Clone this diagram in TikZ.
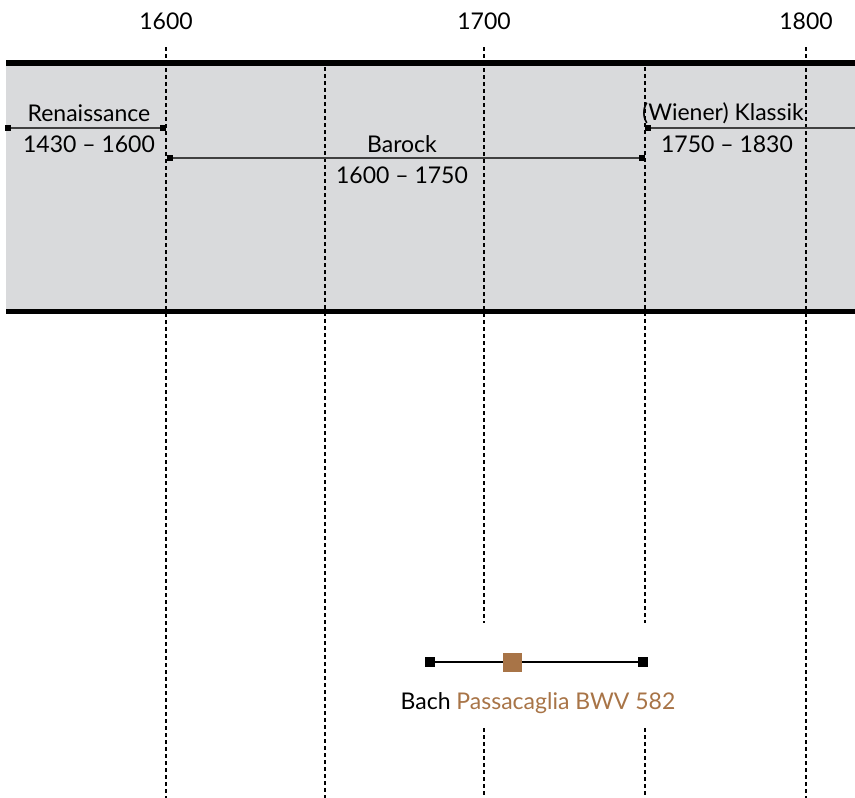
\documentclass[tikz,border=0pt]{standalone}
\usepackage{fontspec}
\setmainfont{Lato}
\usepackage{tikz}
\usetikzlibrary{calc}

\definecolor{bandgray}{HTML}{D9DADC}
\definecolor{bachbrown}{HTML}{A87447}

\tikzset{
  grid/.style={line width=1.1pt, dash pattern=on 4pt off 3pt},
  rule/.style={line width=6pt},
  period/.style={line width=1.5pt, draw=black!75},
  pend/.style={fill=black, inner sep=0pt, minimum size=6pt},
  wend/.style={fill=black, inner sep=0pt, minimum size=10pt},
  wmark/.style={fill=bachbrown, inner sep=0pt, minimum size=19pt},
  lbl/.style={font=\fontsize{23}{27}\selectfont, inner sep=0pt}
}

\begin{document}
\begin{tikzpicture}[x=1pt,y=-1pt]
  \useasboundingbox (0,0) rectangle (855,798);

  % band
  \fill[bandgray] (6,63) rectangle (855,311);
  \draw[rule] (6,63) -- (855,63);
  \draw[line width=5pt] (6,311) -- (855,311);

  % year labels
  \node[lbl] (y1600) at (166,21) {1600};
  \node[lbl] (y1700) at (484,21) {1700};
  \node[lbl] (y1800) at (806,21) {1800};

  % grid lines
  \draw[grid] (166,47) -- (166,798);
  \draw[grid] (325,67) -- (325,798);
  \draw[grid] (484,47) -- (484,623);
  \draw[grid] (484,728) -- (484,798);
  \draw[grid] (645,67) -- (645,623);
  \draw[grid] (645,728) -- (645,798);
  \draw[grid] (806,47) -- (806,798);

  % periods
  \node[pend] (ren1) at (8,128) {};
  \node[pend] (ren2) at (163,128) {};
  \draw[period] (ren1) -- (ren2);
  \node[lbl] (renname) at (89,113) {Renaissance};
  \node[lbl] (rendate) at (89,144) {1430 -- 1600};

  \node[pend] (bar1) at (170,158) {};
  \node[pend] (bar2) at (642,158) {};
  \draw[period] (bar1) -- (bar2);
  \node[lbl] (barname) at (402,144) {Barock};
  \node[lbl] (bardate) at (402,175) {1600 -- 1750};

  \node[pend] (kla1) at (648,128) {};
  \coordinate (kla2) at (855,128);
  \draw[period] (kla1) -- (kla2);
  \node[lbl] (klaname) at (723,113) {(Wiener) Klassik};
  \node[lbl] (kladate) at (727,144) {1750 -- 1830};

  % Bach
  \node[wend] (bach1) at (430,662) {};
  \node[wend] (bach2) at (643,662) {};
  \draw[line width=2.5pt] (bach1) -- (bach2);
  \node[wmark] (bwv582) at (512,662) {};
  \node[lbl] (bachlbl) at (538,703) {Bach \textcolor{bachbrown}{Passacaglia BWV 582}};

\end{tikzpicture}
\end{document}
